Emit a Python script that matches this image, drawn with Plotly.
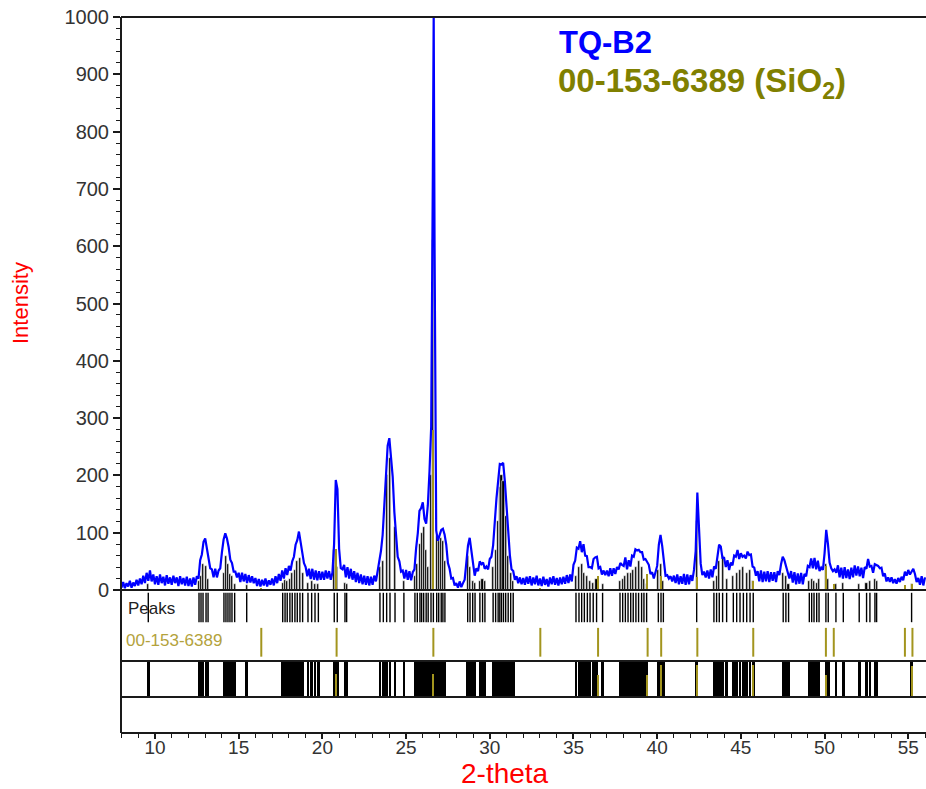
import numpy as np
import plotly.graph_objects as go

# ---- measured pattern TQ-B2 (2-theta step 0.1 deg, 8.0 .. 56.0) ----
theta_start, theta_step = 8.0, 0.1
counts = [
    4, 14, 3, 12, 6, 16, 4, 13, 7, 18,            # 8
    8, 20, 10, 25, 12, 30, 16, 34, 15, 27,        # 9
    10, 24, 9, 27, 12, 23, 8, 26, 11, 22,         # 10
    9, 25, 12, 22, 7, 24, 10, 21, 8, 23,          # 11
    7, 20, 6, 22, 9, 24, 20, 52, 62, 84,          # 12
    90, 72, 60, 38, 36, 22, 37, 22, 34, 38,       # 13
    66, 88, 99, 90, 75, 53, 47, 32, 32, 22,       # 14
    30, 14, 30, 15, 28, 12, 26, 13, 24, 12,       # 15
    21, 7, 19, 6, 18, 8, 20, 6, 17, 9,            # 16
    20, 8, 24, 12, 28, 16, 34, 20, 38, 26,        # 17
    42, 34, 50, 58, 79, 87, 102, 84, 69, 47,      # 18
    40, 24, 37, 19, 37, 18, 34, 17, 33, 18,       # 19
    32, 18, 34, 20, 33, 18, 30, 80, 192, 176,     # 20
    72, 38, 36, 44, 22, 40, 20, 37, 18, 33,       # 21
    14, 30, 12, 27, 10, 25, 9, 24, 8, 23,         # 22
    9, 25, 15, 33, 43, 68, 96, 152, 203, 252,     # 23
    265, 232, 198, 136, 94, 58, 50, 32, 34, 20,   # 24
    35, 18, 33, 17, 31, 36, 73, 99, 138, 143,     # 25
    153, 124, 116, 148, 207, 285, 730, 612, 104, 86,  # 26
    98, 105, 107, 97, 79, 47, 37, 20, 21, 8,      # 27
    12, 4, 15, 5, 12, 18, 48, 78, 91, 68,         # 28
    43, 25, 38, 33, 50, 45, 48, 37, 41, 36,       # 29
    54, 58, 78, 125, 160, 190, 220, 219, 222, 190,  # 30
    148, 90, 61, 36, 33, 18, 24, 12, 22, 10,      # 31
    21, 9, 23, 11, 24, 8, 22, 10, 25, 8,          # 32
    20, 7, 23, 9, 19, 6, 22, 10, 24, 9,           # 33
    21, 8, 22, 10, 23, 11, 26, 12, 27, 15,        # 34
    44, 51, 74, 72, 85, 66, 80, 60, 59, 40,       # 35
    40, 38, 54, 57, 58, 38, 40, 27, 34, 26,       # 36
    34, 24, 38, 25, 38, 28, 40, 36, 47, 44,       # 37
    42, 57, 36, 52, 41, 60, 58, 71, 69, 70,       # 38
    66, 66, 53, 54, 50, 44, 28, 31, 20, 34,       # 39
    42, 79, 96, 77, 45, 25, 26, 20, 24, 15,       # 40
    25, 12, 27, 10, 24, 11, 28, 9, 27, 10,        # 41
    26, 16, 35, 68, 170, 108, 46, 26, 32, 22,     # 42
    34, 20, 36, 22, 41, 37, 60, 79, 76, 56,       # 43
    56, 40, 52, 35, 48, 43, 60, 58, 70, 54,       # 44
    64, 58, 60, 55, 67, 61, 62, 41, 39, 25,       # 45
    33, 15, 34, 14, 32, 15, 33, 14, 31, 16,       # 46
    31, 14, 33, 26, 45, 58, 52, 42, 34, 20,       # 47
    33, 13, 31, 10, 29, 11, 30, 10, 28, 24,       # 48
    42, 40, 55, 38, 56, 36, 51, 33, 39, 35,       # 49
    64, 105, 81, 48, 38, 33, 36, 30, 43, 22,      # 50
    39, 20, 40, 21, 36, 19, 39, 22, 43, 25,       # 51
    41, 24, 39, 21, 40, 37, 54, 41, 42, 30,       # 52
    45, 43, 42, 38, 39, 24, 29, 15, 22, 14,       # 53
    22, 12, 19, 11, 21, 14, 23, 17, 32, 25,       # 54
    35, 27, 33, 37, 28, 14, 21, 9, 24, 8,         # 55
    22,                                           # 56
]
# extra sample on top of the strongest quartz reflection
apex_theta = [26.65]
apex_counts = [1005]

# ---- peak search list ----
peak_pos = [
    9.60,
    12.63, 12.75, 12.87, 13.05, 13.17,
    14.12, 14.24, 14.36, 14.48, 14.60, 14.76,
    15.48,
    17.63, 17.77, 17.90, 18.06, 18.20, 18.36, 18.50, 18.66, 18.82,
    19.14, 19.36, 19.56, 19.76,
    20.71, 20.89, 21.35, 21.45,
    23.44, 23.64, 23.84, 24.04, 24.34, 24.87,
    25.53, 25.67, 25.83, 25.93, 26.05, 26.20, 26.32, 26.49, 26.63,
    26.83, 26.95, 27.10, 27.20, 27.32,
    28.68, 28.82, 28.98, 29.12, 29.41, 29.57, 29.71,
    30.20, 30.35, 30.50, 30.60, 30.70, 30.82, 30.95, 31.10, 31.25, 31.40,
    35.15, 35.33, 35.49, 35.65, 35.83, 35.99, 36.18, 36.38, 36.74,
    37.78, 37.94, 38.10, 38.26, 38.42, 38.57, 38.73, 38.89, 39.07, 39.21, 39.37,
    40.07, 40.23, 40.37,
    42.36,
    43.39, 43.55, 43.71, 43.91, 44.15,
    44.55, 44.75, 44.95, 45.15, 45.35, 45.55, 45.74,
    47.53, 47.69, 47.85,
    49.09, 49.23, 49.37, 49.53, 49.67,
    50.08, 50.22, 50.68, 51.12, 52.07, 52.51, 52.71, 53.01, 53.11,
    55.20,
]
peak_int = [
    10,
    15, 25, 45, 42, 20,
    30, 60, 45, 28, 25, 10,
    8,
    12, 18, 15, 20, 30, 35, 50, 55, 30,
    12, 15, 10, 10,
    70, 40, 12, 10,
    40, 50, 200, 230, 110, 15,
    25, 45, 80, 100, 110, 70, 40, 200, 610,
    95, 85, 90, 85, 50,
    60, 40, 15, 12, 15, 20, 15,
    40, 70, 120, 180, 200, 190, 130, 60, 30, 15,
    25, 40, 45, 30, 25, 15, 12, 20, 10,
    15, 20, 25, 30, 30, 35, 40, 50, 40, 20, 10,
    35, 45, 15,
    120,
    15, 25, 50, 60, 20,
    25, 30, 35, 40, 30, 35, 15,
    30, 25, 10,
    15, 20, 15, 12, 20,
    45, 20, 10, 12, 10, 12, 15, 20, 15,
    10,
]
peak_fwhm = 0.16

# ---- reference card 00-153-6389 (SiO2) ----
ref_pos = [16.35, 20.85, 26.63, 33.02, 36.47, 39.43, 40.24, 42.40,
           45.74, 50.08, 50.55, 54.80, 55.25]
ref_int = [4, 72, 280, 4, 25, 28, 25, 22, 16, 42, 10, 8, 10]
ref_match = [0.0, 0.65, 0.65, 0.0, 0.6, 0.6, 0.9, 0.9, 0.9, 0.6, 0.0, 0.0, 0.87]

x_ticks = [10, 15, 20, 25, 30, 35, 40, 45, 50, 55]

# ---------------------------------------------------------------------------
theta = np.round(theta_start + theta_step * np.arange(len(counts)), 2)
all_theta = np.concatenate([theta, apex_theta])
all_counts = np.concatenate([counts, apex_counts])
order = np.argsort(all_theta, kind="stable")
all_theta, all_counts = all_theta[order], all_counts[order]

BLUE = "#0000ff"
OLIVE = "#a3951e"
OLIVE_TXT = "#808000"
INK = "#1a1a1a"
FONT = "Liberation Sans, Arial, sans-serif"

# plot area in pixels
W, H = 926, 789
L, R, T, B = 121, 0, 17, 56
ph = H - T - B


def py(pix):
    """pixel row -> paper fraction"""
    return (H - B - pix) / ph


def px(pix):
    return (pix - L) / (W - L - R)


row_main = [py(590), 1.0]
row_peaks = [py(625), py(590)]
row_ref = [py(661), py(625)]
row_band = [py(697), py(661)]
row_empty = [0.0, py(697)]


def stick_xy(pos, y0, y1):
    xs, ys = [], []
    for p in pos:
        xs += [p, p, None]
        ys += [y0, y1, None]
    return xs, ys


fig = go.Figure()

# measured pattern
fig.add_trace(go.Scatter(x=all_theta, y=all_counts, mode="lines",
                         line=dict(color=BLUE, width=2.2), yaxis="y",
                         hoverinfo="skip", showlegend=False))
# peak bars under the pattern
fig.add_trace(go.Bar(x=peak_pos, y=peak_int, width=0.13, yaxis="y",
                     marker=dict(color="black", line=dict(color="white", width=0.6)),
                     showlegend=False))
# reference sticks in the pattern
fig.add_trace(go.Bar(x=ref_pos, y=ref_int, width=0.08, yaxis="y",
                     marker=dict(color=OLIVE, line=dict(width=0)), showlegend=False))

# "Peaks" row
sx, sy = stick_xy(peak_pos, 0.08, 0.92)
fig.add_trace(go.Scatter(x=sx, y=sy, mode="lines", yaxis="y2",
                         line=dict(color="black", width=1.4), showlegend=False))
# reference row
sx, sy = stick_xy(ref_pos, 0.12, 0.92)
fig.add_trace(go.Scatter(x=sx, y=sy, mode="lines", yaxis="y3",
                         line=dict(color=OLIVE, width=2), showlegend=False))
# peak band
fig.add_trace(go.Bar(x=peak_pos, y=[1] * len(peak_pos), width=peak_fwhm, yaxis="y4",
                     marker=dict(color="black", line=dict(width=0)), showlegend=False))
fig.add_trace(go.Bar(x=ref_pos, y=ref_match, width=0.09, yaxis="y4",
                     marker=dict(color=OLIVE, line=dict(width=0)), showlegend=False))
# empty bottom strip
fig.add_trace(go.Scatter(x=[None], y=[None], yaxis="y5", showlegend=False))

hidden = dict(range=[0, 1], showticklabels=False, showgrid=False, zeroline=False,
              ticks="", showline=False, fixedrange=True)

fig.update_layout(
    width=W, height=H,
    margin=dict(l=L, r=R, t=T, b=B),
    paper_bgcolor="white", plot_bgcolor="white",
    barmode="overlay", bargap=0,
    showlegend=False,
    font=dict(family=FONT, color="#333333"),
    xaxis=dict(range=[7.97, 56.06], domain=[0, 1], anchor="y5",
               tickmode="array", tickvals=x_ticks, ticks="outside", ticklen=5,
               tickwidth=1.5, tickcolor=INK, ticklabelstandoff=-8,
               minor=dict(dtick=1, ticks="outside", ticklen=4, tickcolor=INK, tickwidth=1.2),
               showgrid=False, zeroline=False, showline=False,
               tickfont=dict(size=19, color="#333333", family=FONT)),
    yaxis=dict(domain=row_main, range=[0, 1000], tickmode="linear", tick0=0, dtick=100,
               ticks="outside", ticklen=7, tickwidth=1.5, tickcolor=INK,
               minor=dict(dtick=20, ticks="outside", ticklen=4, tickcolor=INK, tickwidth=1.2),
               showgrid=False, zeroline=False, showline=False,
               tickfont=dict(size=20, color="#333333", family=FONT)),
    yaxis2=dict(domain=row_peaks, anchor="x", **hidden),
    yaxis3=dict(domain=row_ref, anchor="x", **hidden),
    yaxis4=dict(domain=row_band, anchor="x", **hidden),
    yaxis5=dict(domain=row_empty, anchor="x", **hidden),
)

# frame lines
frame = dict(type="line", xref="paper", yref="paper", line=dict(color=INK, width=2))
fig.add_shape(x0=0, x1=0, y0=0, y1=1, **frame)
fig.add_shape(x0=0, x1=1, y0=1, y1=1, **frame)
for yy in [row_main[0], row_band[1], row_band[0], 0]:
    fig.add_shape(x0=0, x1=1, y0=yy, y1=yy, **frame)

# texts
txt = dict(xref="paper", yref="paper", showarrow=False, yanchor="middle")
fig.add_annotation(x=px(20), y=py(303), text="Intensity", textangle=-90, xanchor="center",
                   font=dict(size=22, color="#ff0000", family=FONT), **txt)
fig.add_annotation(x=px(505), y=py(773), text="2-theta", xanchor="center",
                   font=dict(size=28, color="#ff0000", family=FONT), **txt)
fig.add_annotation(x=px(557), y=py(43), text="<b>TQ-B2</b>", xanchor="left",
                   font=dict(size=31, color=BLUE, family=FONT), **txt)
fig.add_annotation(x=px(556), y=py(83), text="<b>00-153-6389 (SiO<sub>2</sub>)</b>",
                   xanchor="left", font=dict(size=33, color=OLIVE_TXT, family=FONT), **txt)
fig.add_annotation(x=px(126), y=py(608), text="Peaks", xanchor="left",
                   font=dict(size=17, color="#222222", family=FONT), **txt)
fig.add_annotation(x=px(124), y=py(640), text="00-153-6389", xanchor="left",
                   font=dict(size=17, color="#b3a23c", family=FONT), **txt)

fig.write_html("out.html")
